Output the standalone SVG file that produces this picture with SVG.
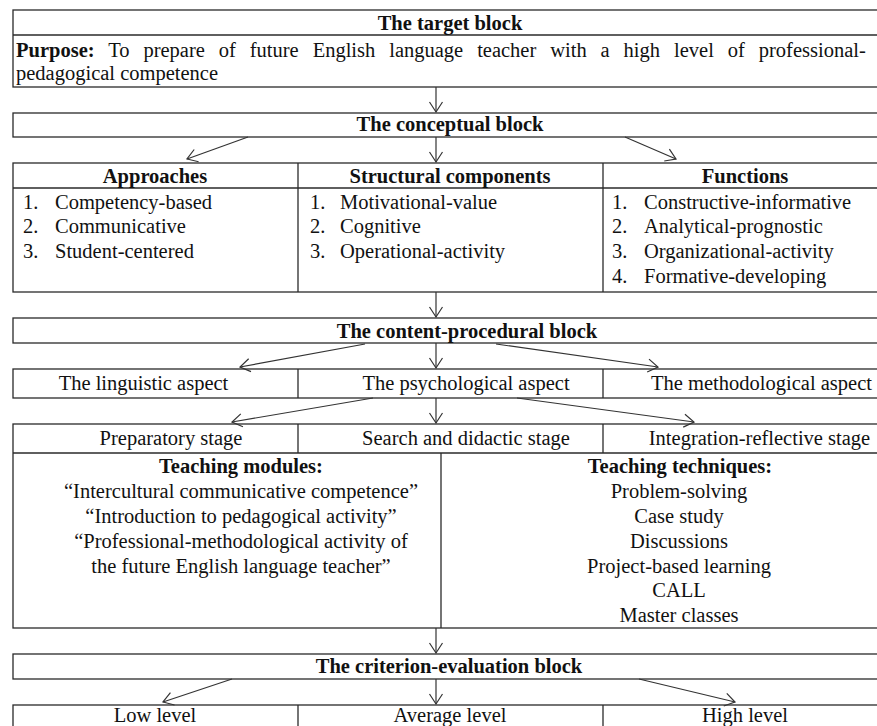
<svg xmlns="http://www.w3.org/2000/svg" width="877" height="726" viewBox="0 0 877 726">
<style>
  .box{fill:none;stroke:#2a2a2a;stroke-width:1.3}
  .ln{stroke:#2a2a2a;stroke-width:1.3;fill:none}
  .t text{font-family:'Liberation Serif','Times New Roman','DejaVu Serif',serif;font-size:20.5px;fill:#111}
  .b{font-weight:bold}
  .c{text-anchor:middle}
  .arr{stroke:#333;stroke-width:1.2;fill:none;marker-end:url(#ah)}
</style>
<defs>
  <marker id="ah" markerUnits="userSpaceOnUse" markerWidth="14" markerHeight="16" viewBox="-12 -8 14 16" refX="0" refY="0" orient="auto">
    <path d="M-10,-6.5 L0,0 L-10,6.5" fill="none" stroke="#333" stroke-width="1.2"/>
  </marker>
</defs>
<rect width="877" height="726" fill="#fff"/>
<g class="t" font-family="Liberation Serif, Times New Roman, DejaVu Serif, serif">

<g id="target-block">
  <rect class="box" x="13" y="10" width="874" height="77"/>
  <line class="ln" x1="13" y1="35" x2="887" y2="35"/>
  <text class="b c" x="450" y="30">The target block</text>
  <text x="16" y="57" word-spacing="8.8"><tspan class="b">Purpose:</tspan> To prepare of future English language teacher with a high level of professional-</text>
  <text x="16" y="80">pedagogical competence</text>
</g>

<g id="conceptual-block">
  <rect class="box" x="13" y="113" width="874" height="24"/>
  <text class="b c" x="450" y="131">The conceptual block</text>
</g>

<g id="conceptual-columns">
  <rect class="box" x="13" y="163" width="874" height="129"/>
  <line class="ln" x1="13" y1="188" x2="887" y2="188"/>
  <line class="ln" x1="298" y1="163" x2="298" y2="292"/>
  <line class="ln" x1="603" y1="163" x2="603" y2="292"/>
</g>

<g id="approaches">
  <text class="b c" x="155" y="183">Approaches</text>
  <text x="23" y="209">1.</text><text x="55" y="209">Competency-based</text>
  <text x="23" y="233">2.</text><text x="55" y="233">Communicative</text>
  <text x="23" y="258">3.</text><text x="55" y="258">Student-centered</text>
</g>

<g id="structural-components">
  <text class="b c" x="450" y="183">Structural components</text>
  <text x="310" y="209">1.</text><text x="340" y="209">Motivational-value</text>
  <text x="310" y="233">2.</text><text x="340" y="233">Cognitive</text>
  <text x="310" y="258">3.</text><text x="340" y="258">Operational-activity</text>
</g>

<g id="functions">
  <text class="b c" x="745" y="183">Functions</text>
  <text x="612" y="209">1.</text><text x="644" y="209">Constructive-informative</text>
  <text x="612" y="233">2.</text><text x="644" y="233">Analytical-prognostic</text>
  <text x="612" y="258">3.</text><text x="644" y="258">Organizational-activity</text>
  <text x="612" y="283">4.</text><text x="644" y="283">Formative-developing</text>
</g>

<g id="content-procedural-block">
  <rect class="box" x="13" y="318" width="874" height="25"/>
  <text class="b c" x="467" y="338">The content-procedural block</text>
</g>

<g id="aspects">
  <rect class="box" x="13" y="369" width="874" height="29"/>
  <line class="ln" x1="298" y1="369" x2="298" y2="398"/>
  <line class="ln" x1="603" y1="369" x2="603" y2="398"/>
  <text class="c" x="143.5" y="390">The linguistic aspect</text>
  <text class="c" x="466" y="390">The psychological aspect</text>
  <text class="c" x="761.5" y="390">The methodological aspect</text>
</g>

<g id="stages">
  <rect class="box" x="13" y="424" width="874" height="204"/>
  <line class="ln" x1="13" y1="453" x2="887" y2="453"/>
  <line class="ln" x1="298" y1="424" x2="298" y2="453"/>
  <line class="ln" x1="603" y1="424" x2="603" y2="453"/>
  <line class="ln" x1="441" y1="453" x2="441" y2="628"/>
  <text class="c" x="171" y="445">Preparatory stage</text>
  <text class="c" x="466" y="445">Search and didactic stage</text>
  <text class="c" x="759.5" y="445">Integration-reflective stage</text>
</g>

<g id="teaching-modules">
  <text class="b c" x="241" y="473">Teaching modules:</text>
  <text class="c" x="241" y="498">“Intercultural communicative competence”</text>
  <text class="c" x="241" y="523">“Introduction to pedagogical activity”</text>
  <text class="c" x="241" y="548">“Professional-methodological activity of</text>
  <text class="c" x="241" y="573">the future English language teacher”</text>
</g>

<g id="teaching-techniques">
  <text class="b c" x="680" y="473">Teaching techniques:</text>
  <text class="c" x="679" y="498">Problem-solving</text>
  <text class="c" x="679" y="523">Case study</text>
  <text class="c" x="679" y="548">Discussions</text>
  <text class="c" x="679" y="573">Project-based learning</text>
  <text class="c" x="679" y="597">CALL</text>
  <text class="c" x="679" y="622">Master classes</text>
</g>

<g id="criterion-evaluation-block">
  <rect class="box" x="13" y="654" width="874" height="25"/>
  <text class="b c" x="449" y="673">The criterion-evaluation block</text>
</g>

<g id="levels">
  <rect class="box" x="13" y="705" width="874" height="40"/>
  <line class="ln" x1="298" y1="705" x2="298" y2="745"/>
  <line class="ln" x1="603" y1="705" x2="603" y2="745"/>
  <text class="c" x="155" y="722">Low level</text>
  <text class="c" x="450" y="722">Average level</text>
  <text class="c" x="745" y="722">High level</text>
</g>
</g>

<g id="connectors">
  <line class="arr" x1="436" y1="87" x2="436" y2="112"/>
  <line class="arr" x1="436" y1="137" x2="436" y2="162"/>
  <line class="arr" x1="248" y1="137" x2="187" y2="159"/>
  <line class="arr" x1="625" y1="137" x2="676" y2="159"/>
  <line class="arr" x1="436" y1="292" x2="436" y2="317"/>
  <line class="arr" x1="436" y1="343" x2="436" y2="368"/>
  <line class="arr" x1="365" y1="344" x2="240" y2="367"/>
  <line class="arr" x1="496" y1="344" x2="658" y2="367"/>
  <line class="arr" x1="436" y1="398" x2="436" y2="423"/>
  <line class="arr" x1="373" y1="398" x2="232" y2="422"/>
  <line class="arr" x1="517" y1="398" x2="694" y2="422"/>
  <line class="arr" x1="436" y1="628" x2="436" y2="653"/>
  <line class="arr" x1="436" y1="679" x2="436" y2="704"/>
  <line class="arr" x1="232" y1="679" x2="163" y2="702"/>
  <line class="arr" x1="639" y1="679" x2="735" y2="702"/>
</g>
</svg>
